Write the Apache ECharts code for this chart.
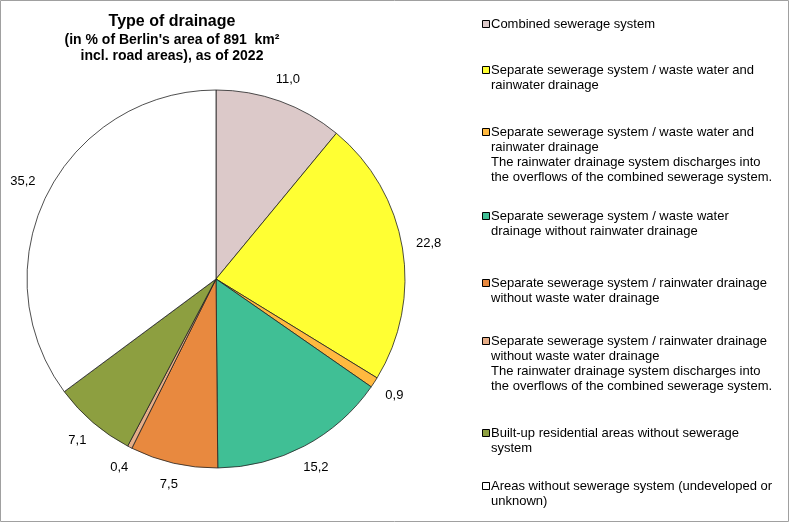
<!DOCTYPE html>
<html>
<head>
<meta charset="utf-8">
<style>
  html, body { margin: 0; padding: 0; background: #fff; }
  #main { width: 789px; height: 522px; }
</style>
<script src="https://cdn.jsdelivr.net/npm/echarts@6/dist/echarts.min.js"></script>
</head>
<body>
<div id="main"></div>
<script>
const chart = echarts.init(document.getElementById('main'));

const categories = [
  'Combined sewerage system',
  'Separate sewerage system / waste water and\nrainwater drainage',
  'Separate sewerage system / waste water and\nrainwater drainage\nThe rainwater drainage system discharges into\nthe overflows of the combined sewerage system.',
  'Separate sewerage system / waste water\ndrainage without rainwater drainage',
  'Separate sewerage system / rainwater drainage\nwithout waste water drainage',
  'Separate sewerage system / rainwater drainage\nwithout waste water drainage\nThe rainwater drainage system discharges into\nthe overflows of the combined sewerage system.',
  'Built-up residential areas without sewerage\nsystem',
  'Areas without sewerage system (undeveloped or\nunknown)'
];
const shares = [11.0, 22.8, 0.9, 15.2, 7.5, 0.4, 7.1, 35.2];
const colors = ['#dcc9c9', '#ffff33', '#ffb93f', '#40bf95', '#e8893f', '#e6ad87', '#8d9f40', '#ffffff'];

// legend rows (first-line centre y) – layout only
const legendY = [24, 70, 132, 216, 283, 341, 433, 486];

const cx = 216, cy = 279, R = 189;
const total = shares.reduce((a, b) => a + b, 0);

// place value labels just outside the rim, centred on the slice's mid angle
function labelPos(params) {
  const i = params.dataIndex;
  let before = 0;
  for (let k = 0; k < i; k++) before += shares[k];
  const a = (before + shares[i] / 2) / total * Math.PI * 2;
  const s = Math.sin(a), c = Math.cos(a);
  const w = params.labelRect.width, h = params.labelRect.height;
  const d = R + 13 + Math.abs(s) * w / 2 + Math.abs(c) * h / 2;
  return { x: cx + d * s, y: cy - d * c, align: 'center', verticalAlign: 'middle' };
}

const legendGraphics = [];
categories.forEach((name, i) => {
  legendGraphics.push({
    type: 'rect',
    shape: { x: 482.5, y: legendY[i] - 3.5, width: 7, height: 7 },
    style: { fill: colors[i], stroke: '#000', lineWidth: 1 }
  });
  legendGraphics.push({
    type: 'text',
    x: 491,
    y: legendY[i] - 7.5,
    style: {
      text: name,
      fill: '#000',
      font: '13px "Liberation Sans", Arial, sans-serif',
      lineHeight: 15,
      verticalAlign: 'top'
    }
  });
});

const option = {
  animation: false,
  textStyle: { fontFamily: '"Liberation Sans", Arial, sans-serif' },
  title: {
    text: 'Type of drainage',
    subtext: "(in % of Berlin's area of 891  km²\nincl. road areas), as of 2022",
    left: 172,
    top: 13,
    padding: 0,
    itemGap: 1,
    textAlign: 'center',
    textStyle: { fontSize: 16, fontWeight: 'bold', color: '#000', lineHeight: 18 },
    subtextStyle: { fontSize: 14, fontWeight: 'bold', color: '#000', lineHeight: 16 }
  },
  graphic: [
    {
      type: 'rect',
      shape: { x: 0.5, y: 0.5, width: 788, height: 521 },
      style: { fill: 'none', stroke: '#a0a0a0', lineWidth: 1 },
      silent: true
    },
    ...legendGraphics
  ],
  series: [
    {
      type: 'pie',
      center: [cx, cy],
      radius: R,
      startAngle: 90,
      clockwise: true,
      avoidLabelOverlap: false,
      emphasis: { disabled: true },
      itemStyle: { borderColor: '#222', borderWidth: 0.8 },
      label: {
        show: true,
        position: 'outside',
        color: '#000',
        fontSize: 13,
        formatter: p => p.value.toFixed(1).replace('.', ',')
      },
      labelLine: { show: false },
      labelLayout: labelPos,
      data: categories.map((name, i) => ({
        name: name,
        value: shares[i],
        itemStyle: { color: colors[i] }
      }))
    }
  ]
};

chart.setOption(option);
window.onresize = () => chart.resize();
</script>
</body>
</html>
